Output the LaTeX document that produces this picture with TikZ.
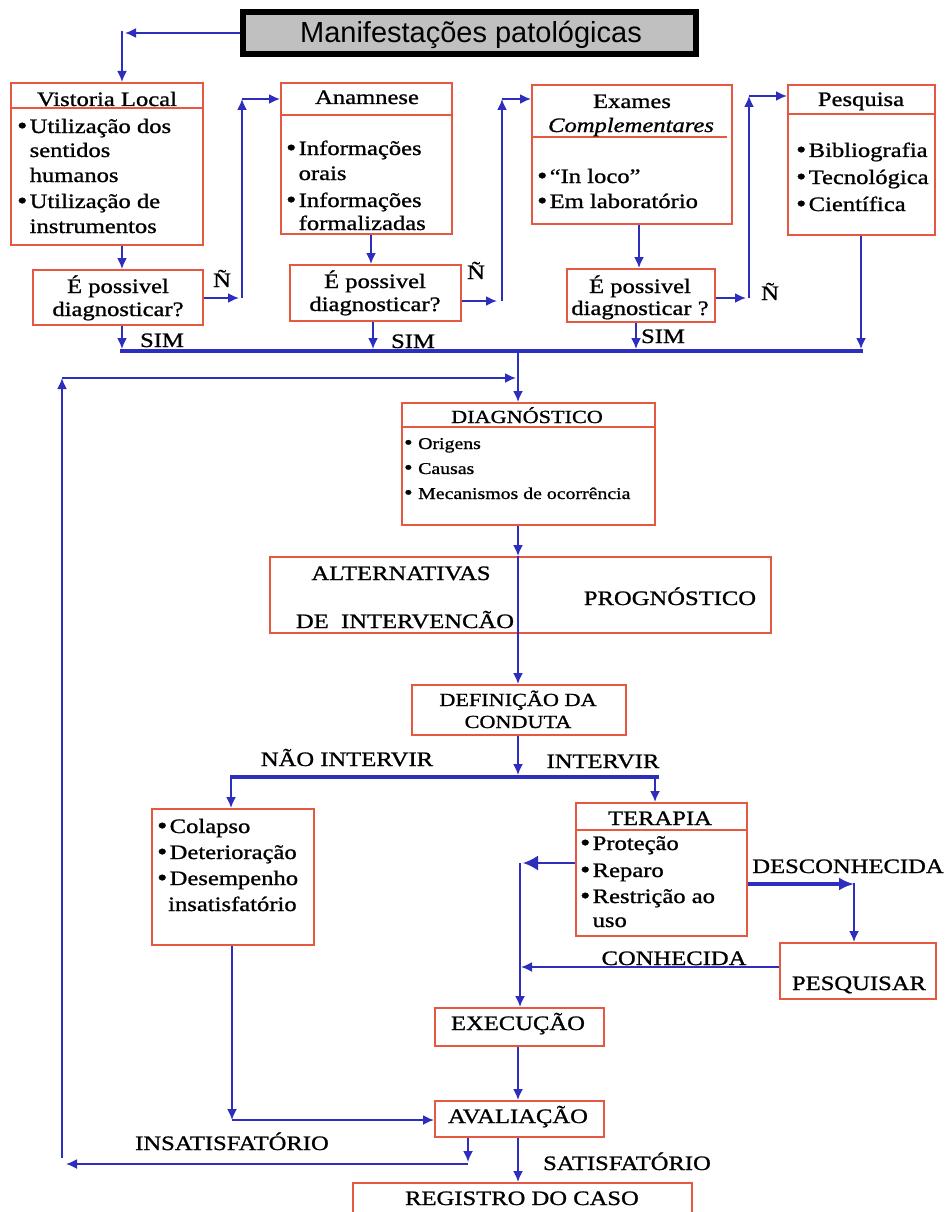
\documentclass[tikz,border=0pt]{standalone}
\usepackage{fontspec}
\setmainfont{Liberation Serif}[FakeStretch=1.2,FakeBold=1]
\newfontfamily\titlefont{Liberation Sans}
\usetikzlibrary{arrows.meta,fit,calc}
\definecolor{boxred}{RGB}{230,88,66}
\definecolor{lineblue}{RGB}{45,45,190}
\definecolor{titlegray}{RGB}{192,192,192}
\newcommand\bul{\makebox[12.5pt][l]{\raisebox{-0.5pt}{\fontsize{24}{24}\selectfont •}}}
\begin{document}
\begin{tikzpicture}[x=1pt,y=-1pt,
  box/.style={draw=boxred,line width=2pt,inner sep=0pt},
  txt/.style={inner sep=0pt,anchor=base,font=\fontsize{20.5}{25}\selectfont},
  txtl/.style={txt,anchor=base west},
  smalltxt/.style={inner sep=0pt,anchor=base west,font=\fontsize{16.5}{20}\selectfont},
  midtxt/.style={txt,font=\fontsize{18.5}{22}\selectfont},
  conn/.style={draw=lineblue,line width=1.8pt,-{Latex[length=11pt,width=10pt]}},
  plain/.style={draw=lineblue,line width=1.8pt},
  bus/.style={draw=lineblue,line width=3.5pt},
  bigarr/.style={draw=lineblue,line width=2pt,-{Latex[length=15pt,width=15pt]}},
  thickarr/.style={draw=lineblue,line width=3.5pt,-{Latex[length=15pt,width=13pt]}},
  hline/.style={draw=boxred,line width=2pt}]
\fill[white] (0,0) rectangle (946,1212);
\useasboundingbox (0,0) rectangle (946,1212);
\clip (0,0) rectangle (946,1212);

% ---------- title ----------
\node[draw=black,line width=6pt,fill=titlegray,inner sep=0pt,fit={(243,12) (696,54)}] (title) {};
\node[inner sep=0pt,anchor=base,font=\titlefont\fontsize{29}{30}\selectfont] (titletxt) at (471,43) {Manifestações patológicas};

% ---------- top row boxes ----------
\node[box,fit={(11,83) (203,245)}] (vist) {};
\draw[hline] (11,108) -- (203,108);
\node[txt] (vh) at (107,106) {Vistoria Local};
\node[txtl] (v1) at (17,133) {\bul Utilização dos};
\node[txtl] (v2) at (29.5,157) {sentidos};
\node[txtl] (v3) at (29.5,182) {humanos};
\node[txtl] (v4) at (17,208) {\bul Utilização de};
\node[txtl] (v5) at (29.5,233) {instrumentos};

\node[box,fit={(33,270) (203,325)}] (d1) {};
\node[txt] (d1a) at (118,293) {É possivel};
\node[txt] (d1b) at (118,316) {diagnosticar?};

\node[box,fit={(281,83) (452,234)}] (anam) {};
\draw[hline] (281,115) -- (452,115);
\node[txt] (ah) at (367,104) {Anamnese};
\node[txtl] (a1) at (286,155) {\bul Informações};
\node[txtl] (a2) at (298.5,180) {orais};
\node[txtl] (a3) at (286,207) {\bul Informações};
\node[txtl] (a4) at (298.5,230) {formalizadas};

\node[box,fit={(290,265) (461,321)}] (d2) {};
\node[txt] (d2a) at (375,288) {É possivel};
\node[txt] (d2b) at (375,311) {diagnosticar?};

\node[box,fit={(532,85) (732,224)}] (exam) {};
\draw[hline] (532,137) -- (727,137);
\node[txt] (eh1) at (632,108) {Exames};
\node[txt] (eh2) at (631,132) {\itshape Complementares};
\node[txtl] (e1) at (537,183) {\bul “In loco”};
\node[txtl] (e2) at (537,208) {\bul Em laboratório};

\node[box,fit={(567,269) (715,322)}] (d3) {};
\node[txt] (d3a) at (640,293) {É possivel};
\node[txt] (d3b) at (640,315) {diagnosticar ?};

\node[box,fit={(788,85) (935,235)}] (pesq) {};
\draw[hline] (788,114) -- (935,114);
\node[txt] (ph) at (861,106) {Pesquisa};
\node[txtl] (p1) at (796,157) {\bul Bibliografia};
\node[txtl] (p2) at (796,184) {\bul Tecnológica};
\node[txtl] (p3) at (796,211) {\bul Científica};

% ---------- top connectors ----------
\coordinate (t1) at (125,33);
\coordinate (c1) at (122,31);
\draw[conn] (title.west) -- (t1);
\draw[conn] (c1) -- (vist.north -| c1);
\draw[conn] (vist.south -| c1) -- (d1.north -| c1);

\coordinate (n1) at (239,298);
\coordinate (n1b) at (242,298);
\coordinate (n1t) at (242,99);
\draw[conn] (d1.east |- n1) -- (n1);
\draw[conn] (n1b) -- (n1t);
\draw[conn] (n1t) -- (anam.west |- n1t);
\node[txt] (l1) at (222,287) {Ñ};

\coordinate (ax) at (371,0);
\draw[conn] (anam.south -| ax) -- (d2.north -| ax);
\coordinate (n2) at (497,301);
\coordinate (n2b) at (502,301);
\coordinate (n2t) at (502,99);
\draw[conn] (d2.east |- n2) -- (n2);
\draw[conn] (n2b) -- (n2t);
\draw[conn] (n2t) -- (exam.west |- n2t);
\node[txt] (l2) at (476,279) {Ñ};

\coordinate (ex) at (639,0);
\draw[conn] (exam.south -| ex) -- (d3.north -| ex);
\coordinate (n3) at (746,298);
\coordinate (n3b) at (749,298);
\coordinate (n3t) at (749,96);
\draw[conn] (d3.east |- n3) -- (n3);
\draw[conn] (n3b) -- (n3t);
\draw[conn] (n3t) -- (pesq.west |- n3t);
\node[txt] (l3) at (770,300) {Ñ};

% ---------- SIM bus ----------
\coordinate (busy) at (0,351);
\coordinate (s2x) at (373,0);
\coordinate (s3x) at (636,0);
\coordinate (px) at (861,0);
\draw[conn] (d1.south -| c1) -- ($(c1 |- busy)+(0,-2)$);
\draw[conn] (d2.south -| s2x) -- ($(s2x |- busy)+(0,-2)$);
\draw[conn] (d3.south -| s3x) -- ($(s3x |- busy)+(0,-2)$);
\draw[conn] (pesq.south -| px) -- ($(px |- busy)+(0,-2)$);
\draw[bus] ($(c1 |- busy)+(-2,0)$) -- ($(px |- busy)+(2,0)$);
\node[txt] (sim1) at (162,347) {SIM};
\node[txt] (sim2) at (413,348) {SIM};
\node[txt] (sim3) at (663,343) {SIM};

% ---------- diagnostico ----------
\coordinate (cx) at (518,0);
\node[box,fit={(402,403) (655,525)}] (diag) {};
\draw[hline] (402,427) -- (655,427);
\node[midtxt] (dh) at (527,423) {DIAGNÓSTICO};
\node[smalltxt] (g1) at (404,449) {\makebox[14pt][l]{\fontsize{20}{20}\selectfont •}Origens};
\node[smalltxt] (g2) at (404,474) {\makebox[14pt][l]{\fontsize{20}{20}\selectfont •}Causas};
\node[smalltxt] (g3) at (404,499) {\makebox[14pt][l]{\fontsize{20}{20}\selectfont •}Mecanismos de ocorrência};
\draw[conn] (cx |- busy) -- (diag.north -| cx);

\coordinate (fbt) at (62,378);
\coordinate (fbb) at (62,1158);
\draw[conn] (fbb) -- (fbt);
\draw[conn] (fbt) -- ($(fbt -| cx)+(-2,0)$);

% ---------- alternativas ----------
\node[box,fit={(270,557) (771,633)}] (alt) {};
\draw[conn] (diag.south -| cx) -- (alt.north -| cx);
\draw[plain] (alt.north -| cx) -- (alt.south -| cx);
\node[txt] (alt1) at (401,580) {ALTERNATIVAS};
\node[txt] (alt2) at (405,628) {DE\ \ INTERVENCÃO};
\node[txt] (prog) at (670,605) {PROGNÓSTICO};

% ---------- definicao ----------
\node[box,fit={(412,685) (626,735)}] (def) {};
\node[midtxt] (def1) at (518,706) {DEFINIÇÃO DA};
\node[midtxt] (def2) at (518,728) {CONDUTA};
\draw[conn] (alt.south -| cx) -- (def.north -| cx);

\coordinate (b2y) at (0,777);
\coordinate (b2l) at (231,777);
\coordinate (b2r) at (655,777);
\draw[conn] (def.south -| cx) -- ($(cx |- b2y)+(0,-2)$);
\draw[bus] ($(b2l)+(-1,0)$) -- ($(b2r)+(4,0)$);
\node[txt] (nao) at (347,766) {NÃO INTERVIR};
\node[txt] (intv) at (603,768) {INTERVIR};

% ---------- colapso ----------
\node[box,fit={(152,809) (314,945)}] (col) {};
\draw[conn] (b2l) -- (col.north -| b2l);
\node[txtl] (k1) at (157,833) {\bul Colapso};
\node[txtl] (k2) at (157,859) {\bul Deterioração};
\node[txtl] (k3) at (157,885) {\bul Desempenho};
\node[txtl] (k4) at (168,911) {insatisfatório};

% ---------- terapia ----------
\node[box,fit={(576,803) (747,936)}] (ter) {};
\draw[hline] (576,830) -- (747,830);
\draw[conn] (b2r) -- (ter.north -| b2r);
\node[txt] (th) at (660,825) {TERAPIA};
\node[txtl] (r1) at (580,850) {\bul Proteção};
\node[txtl] (r2) at (580,877) {\bul Reparo};
\node[txtl] (r3) at (580,903) {\bul Restrição ao};
\node[txtl] (r4) at (592.5,927) {uso};

\coordinate (tl) at (520,863);
\draw[bigarr] (ter.west |- tl) -- ($(tl)+(3,0)$);

% ---------- pesquisar ----------
\node[box,fit={(780,943) (936,999)}] (pesqr) {};
\node[txt] (pr) at (859,990) {PESQUISAR};
\coordinate (dk) at (854,884);
\draw[thickarr] (ter.east |- dk) -- (dk);
\draw[conn] ($(dk)+(0,-1.5)$) -- (pesqr.north -| dk);
\node[txt] (desc) at (848,873) {DESCONHECIDA};

\coordinate (kn) at (0,967);
\draw[conn] (pesqr.west |- kn) -- ($(tl |- kn)+(1,0)$);
\node[txt] (conh) at (674,965) {CONHECIDA};

% ---------- execucao / avaliacao ----------
\node[box,fit={(435,1008) (604,1046)}] (exec) {};
\node[txt] (ext) at (518,1030) {EXECUÇÃO};
\draw[conn] (tl) -- (exec.north -| tl);

\node[box,fit={(435,1101) (604,1137)}] (aval) {};
\node[txt] (avt) at (518,1123) {AVALIAÇÃO};
\draw[conn] (exec.south -| cx) -- (aval.north -| cx);

\coordinate (cd) at (232,1120);
\draw[conn] (col.south -| cd) -- (cd);
\draw[conn] (cd) -- (aval.west |- cd);

\coordinate (ia) at (468,1162);
\coordinate (ib) at (468,1164);
\coordinate (il) at (66,1164);
\draw[conn] (aval.south -| ia) -- (ia);
\draw[conn] (ib) -- (il);
\node[txt] (insat) at (232,1150) {INSATISFATÓRIO};

% ---------- registro ----------
\node[box,fit={(353,1183) (692,1240)}] (reg) {};
\node[txt] (regt) at (522,1205) {REGISTRO DO CASO};
\draw[conn] (aval.south -| cx) -- (reg.north -| cx);
\node[txt] (sat) at (627,1170) {SATISFATÓRIO};
\end{tikzpicture}
\end{document}
